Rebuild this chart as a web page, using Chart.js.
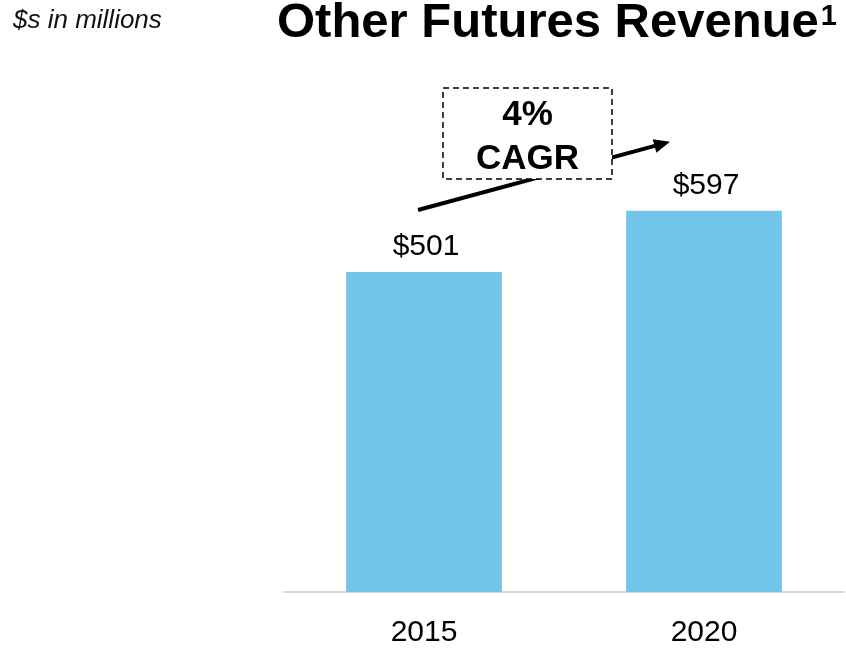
<!DOCTYPE html>
<html>
<head>
<meta charset="utf-8">
<style>
    html, body { margin: 0; padding: 0; background: #fff; }
    #wrap { position: relative; width: 846px; height: 648px; }
</style>
<script src="https://cdn.jsdelivr.net/npm/chart.js@4/dist/chart.umd.min.js"></script>
</head>
<body>
<div id="wrap"><canvas id="chartOtherFutures" width="846" height="648"></canvas></div>
<script>
(function () {
    var years = ['2015', '2020'];
    var revenue = [501, 597];
    var cagrLines = ['4%', 'CAGR'];
    var titleText = 'Other Futures Revenue';
    var titleNote = '1';
    var unitNote = '$s in millions';

    var FONT = '"Liberation Sans", Arial, sans-serif';

    // titles, value labels, CAGR arrow and box
    var decorations = {
        id: 'decorations',
        afterDatasetsDraw: function (chart) {
            var ctx = chart.ctx;
            var bars = chart.getDatasetMeta(0).data;

            ctx.save();
            ctx.fillStyle = '#000';
            ctx.textAlign = 'center';
            ctx.textBaseline = 'alphabetic';
            ctx.font = '30px ' + FONT;
            bars.forEach(function (bar, i) {
                ctx.fillText('$' + revenue[i], bar.x + 2, bar.y - 17);
            });

            // arrow from above first bar to above second bar
            var x1 = bars[0].x - 6, y1 = bars[0].y - 62;
            var x2 = bars[1].x - 34, y2 = bars[1].y - 69;
            var ang = Math.atan2(y2 - y1, x2 - x1);
            ctx.strokeStyle = '#000';
            ctx.lineWidth = 4;
            ctx.beginPath();
            ctx.moveTo(x1, y1);
            ctx.lineTo(x2 - 10 * Math.cos(ang), y2 - 10 * Math.sin(ang));
            ctx.stroke();
            ctx.beginPath();
            ctx.moveTo(x2, y2);
            ctx.lineTo(x2 - 16 * Math.cos(ang) + 7 * Math.sin(ang), y2 - 16 * Math.sin(ang) - 7 * Math.cos(ang));
            ctx.lineTo(x2 - 16 * Math.cos(ang) - 7 * Math.sin(ang), y2 - 16 * Math.sin(ang) + 7 * Math.cos(ang));
            ctx.closePath();
            ctx.fill();

            // dashed CAGR box
            var bx = 443, by = 88, bw = 169, bh = 91;
            ctx.fillStyle = '#fff';
            ctx.fillRect(bx, by, bw, bh);
            ctx.setLineDash([6, 4]);
            ctx.lineWidth = 1.5;
            ctx.strokeRect(bx, by, bw, bh);
            ctx.setLineDash([]);
            ctx.fillStyle = '#000';
            ctx.font = 'bold 35px ' + FONT;
            ctx.fillText(cagrLines[0], bx + bw / 2, 125);
            ctx.fillText(cagrLines[1], bx + bw / 2, 169);

            // title with superscript
            ctx.textAlign = 'left';
            ctx.font = 'bold 49px ' + FONT;
            var tw = ctx.measureText(titleText).width;
            ctx.fillText(titleText, 277, 37);
            ctx.font = 'bold 29px ' + FONT;
            ctx.fillText(titleNote, 277 + tw + 2, 25);

            ctx.font = 'italic 26px ' + FONT;
            ctx.fillStyle = '#111';
            ctx.fillText(unitNote, 13, 28);
            ctx.restore();
        }
    };

    var el = document.getElementById('chartOtherFutures');
    new Chart(el, {
        type: 'bar',
        data: {
            labels: years,
            datasets: [{
                data: revenue,
                backgroundColor: '#71C5E8',
                borderWidth: 0,
                categoryPercentage: 1,
                barPercentage: 0.556
            }]
        },
        options: {
            responsive: false,
            animation: false,
            layout: { padding: { left: 284, right: 2, top: 60, bottom: 0 } },
            scales: {
                x: {
                    grid: { display: false, drawTicks: false },
                    border: { display: true, color: '#D9D9D9', width: 2 },
                    ticks: {
                        color: '#000',
                        padding: 26,
                        font: { family: FONT, size: 30, lineHeight: 1 }
                    },
                    afterFit: function (scale) {
                        scale.height = 56;
                    }
                },
                y: {
                    display: false,
                    min: 0,
                    max: 833
                }
            },
            plugins: {
                legend: { display: false },
                tooltip: { enabled: false }
            }
        },
        plugins: [decorations]
    });
})();
</script>
</body>
</html>
